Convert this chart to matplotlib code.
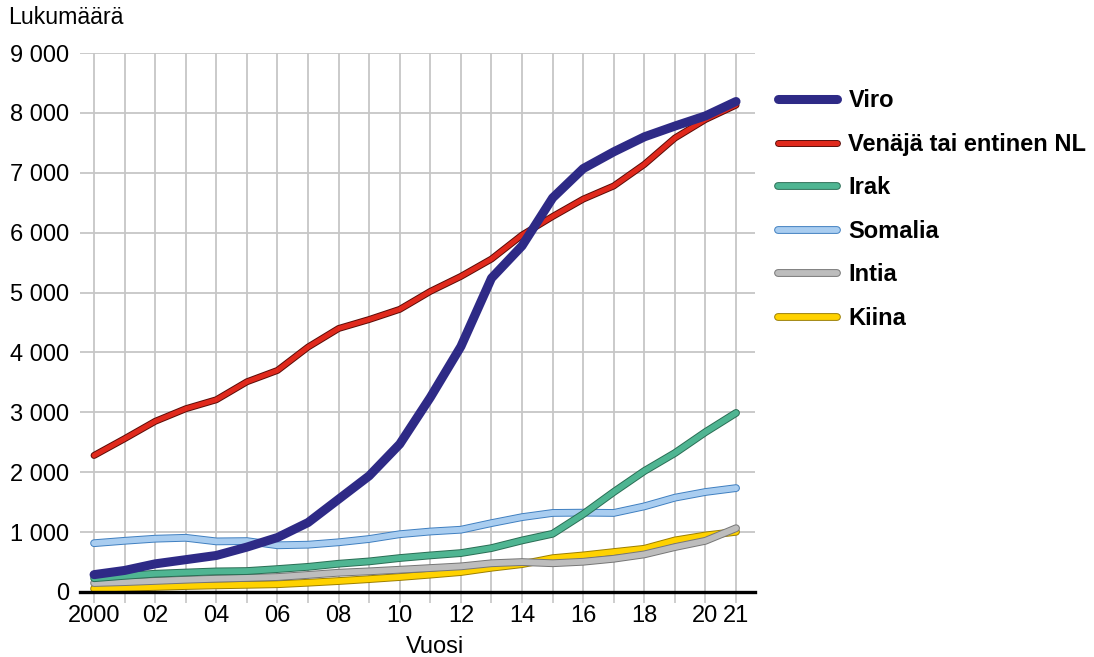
import numpy as np
import matplotlib
matplotlib.use("Agg")
import matplotlib.pyplot as plt
import matplotlib.patheffects as pe
from matplotlib.ticker import FuncFormatter

plt.rcParams["font.family"] = ["Liberation Sans", "DejaVu Sans"]

years = np.arange(2000, 2022)

viro = [290, 360, 470, 540, 610, 750, 910, 1160, 1550, 1940, 2470,
        3250, 4100, 5240, 5780, 6580, 7070, 7350, 7600, 7780, 7950, 8190]
venaja = [2280, 2560, 2850, 3060, 3210, 3510, 3700, 4090, 4400, 4550, 4720,
          5020, 5270, 5560, 5960, 6270, 6560, 6780, 7140, 7580, 7890, 8130]
irak = [230, 270, 305, 325, 344, 350, 383, 420, 472, 511, 567,
        611, 650, 733, 861, 972, 1300, 1670, 2020, 2320, 2670, 2990]
somalia = [815, 855, 890, 905, 845, 850, 780, 790, 830, 885, 965,
           1010, 1040, 1150, 1250, 1320, 1325, 1320, 1430, 1575, 1670, 1735]
intia = [150, 165, 185, 205, 222, 235, 250, 285, 322, 345, 372,
         400, 428, 480, 500, 480, 505, 555, 628, 750, 855, 1065]
kiina = [55, 70, 85, 100, 111, 120, 130, 155, 183, 215, 250,
         290, 333, 405, 465, 565, 611, 667, 722, 861, 944, 1005]

# (label, values, face, edge, width) drawn bottom -> top
series = [
    ("Kiina", kiina, "#ffd200", "#9c7f00", 4.2),
    ("Intia", intia, "#bdbdbd", "#767676", 4.2),
    ("Somalia", somalia, "#a9cdf0", "#3f7fc0", 4.2),
    ("Irak", irak, "#4fb592", "#2a6e55", 4.2),
    ("Venäjä tai entinen NL", venaja, "#e0291c", "#5a0c08", 3.6),
    ("Viro", viro, "#2e2a86", "#2e2a86", 6.5),
]
legend_order = ["Viro", "Venäjä tai entinen NL", "Irak", "Somalia", "Intia", "Kiina"]

fig = plt.figure(figsize=(10.94, 6.57), dpi=100)
W, H = 1094, 657
ax = fig.add_axes([80 / W, 1 - 592 / H, (755 - 80) / W, (592 - 53) / H])

handles = {}
for label, vals, face, edge, lw in series:
    effects = [pe.Stroke(linewidth=lw + 1.4, foreground=edge), pe.Normal()]
    if label == "Viro":
        effects = [pe.Normal()]
    line, = ax.plot(years, vals, color=face, lw=lw, solid_capstyle="round",
                    solid_joinstyle="round", label=label, path_effects=effects,
                    zorder=3)
    handles[label] = line

ax.set_xlim(1999.54, 2021.62)
ax.set_ylim(0, 9000)
ax.set_yticks(np.arange(0, 9001, 1000))
ax.yaxis.set_major_formatter(FuncFormatter(lambda v, p: f"{int(v):,}".replace(",", " ")))
ax.set_xticks(years)
xlabels = []
for y in years:
    if y == 2000:
        xlabels.append("2000")
    elif y % 2 == 0 or y == 2021:
        xlabels.append(f"{y % 100:02d}")
    else:
        xlabels.append("")
ax.set_xticklabels(xlabels)

ax.grid(True, color="#c6c6c6", lw=1.3, zorder=0)
for s in ["top", "right", "left"]:
    ax.spines[s].set_visible(False)
ax.spines["bottom"].set_color("black")
ax.spines["bottom"].set_linewidth(2.4)
ax.spines["bottom"].set_zorder(4)
ax.tick_params(axis="y", length=0, pad=8, labelsize=17)
ax.tick_params(axis="x", length=8, width=1.2, color="#c6c6c6", pad=1, labelsize=17)

ax.set_xlabel("Vuosi", fontsize=17)
ax.xaxis.set_label_coords((435 - 80) / (755 - 80), -0.082)
fig.text(8 / W, 1 - 18 / H, "Lukumäärä", fontsize=16.7, va="center", ha="left")

leg = ax.legend([handles[k] for k in legend_order], legend_order,
                loc="upper left", bbox_to_anchor=(757 / W, 1 - 68 / H),
                bbox_transform=fig.transFigure, frameon=False,
                handlelength=2.47, handletextpad=0.5, labelspacing=0.87,
                prop={"weight": "bold", "size": 17})

fig.savefig("out.png", dpi=100)
